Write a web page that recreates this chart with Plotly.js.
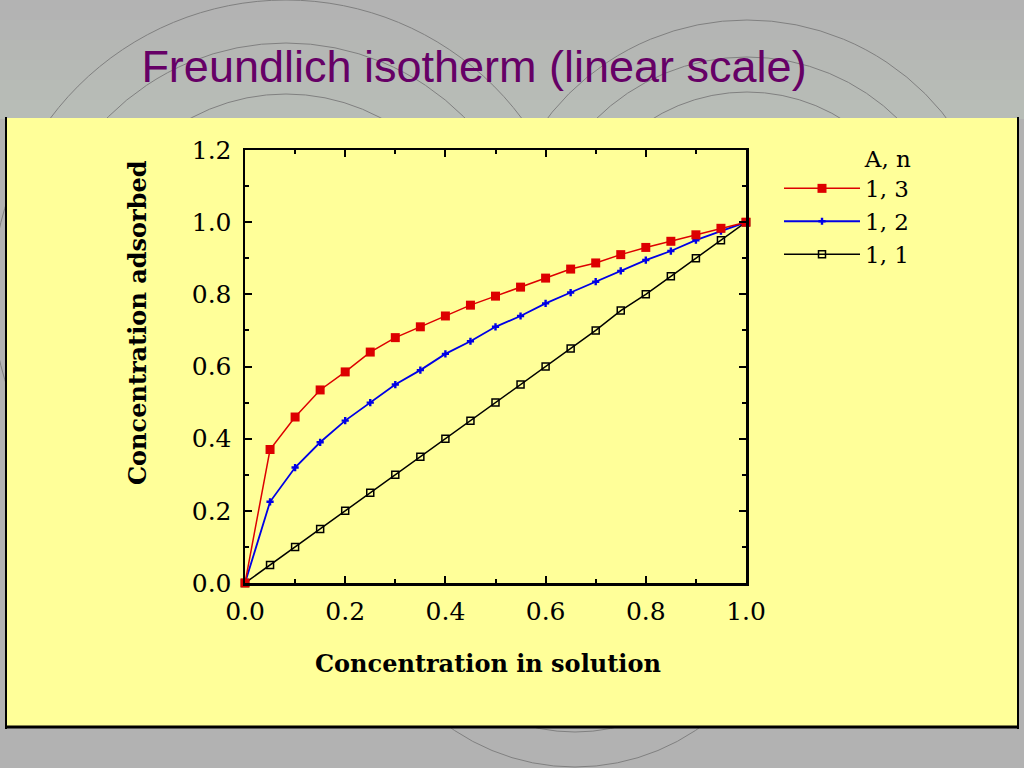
<!DOCTYPE html>
<html>
<head>
<meta charset="utf-8">
<script src="https://cdn.plot.ly/plotly-3.0.1.min.js"></script>
<style>
  html, body { margin: 0; padding: 0; background: #b3b3b3; }
  #chart { width: 1024px; height: 768px; }
</style>
</head>
<body>
<div id="chart"></div>
<script>
// ---- data ----
const concSolution = [0, 0.05, 0.10, 0.15, 0.20, 0.25, 0.30, 0.35, 0.40, 0.45, 0.50,
                      0.55, 0.60, 0.65, 0.70, 0.75, 0.80, 0.85, 0.90, 0.95, 1.00];
const adsorbedN3 = [0, 0.37, 0.46, 0.535, 0.585, 0.64, 0.68, 0.71, 0.74, 0.77, 0.795,
                    0.82, 0.845, 0.87, 0.887, 0.91, 0.93, 0.947, 0.965, 0.983, 1.00];
const adsorbedN2 = [0, 0.225, 0.32, 0.39, 0.45, 0.50, 0.55, 0.59, 0.635, 0.67, 0.71,
                    0.74, 0.775, 0.805, 0.835, 0.865, 0.895, 0.92, 0.95, 0.975, 1.00];
const adsorbedN1 = [0, 0.05, 0.10, 0.15, 0.20, 0.25, 0.30, 0.35, 0.40, 0.45, 0.50,
                    0.55, 0.60, 0.65, 0.70, 0.755, 0.80, 0.85, 0.90, 0.95, 1.00];
const seriesNames = ['1, 3', '1, 2', '1, 1'];
const legendTitle = 'A, n';
const chartTitle = 'Freundlich isotherm (linear scale)';
const xTitle = 'Concentration in solution';
const yTitle = 'Concentration adsorbed';

// ---- layout helpers (pixel -> paper) ----
const L = 245, R = 746, T = 150, B = 583;
function px(x) { return (x - L) / (R - L); }
function py(y) { return (B - y) / (B - T); }

const shapes = [];
// top gradient bands
const bands = [['#b3b3b3', 0, 20], ['#b4b5b4', 20, 40], ['#b5b7b4', 40, 60],
               ['#b6b9b5', 60, 80], ['#b7bbb6', 80, 100], ['#b8bdb7', 100, 119]];
bands.forEach(b => shapes.push({type: 'rect', xref: 'paper', yref: 'paper', layer: 'below',
  x0: px(0), x1: px(1024), y0: py(b[2]), y1: py(b[1]), fillcolor: b[0], line: {width: 0}}));
// decorative concentric arcs
function circ(cx, cy, r) {
  shapes.push({type: 'circle', xref: 'paper', yref: 'paper', layer: 'below',
    x0: px(cx - r), x1: px(cx + r), y0: py(cy + r), y1: py(cy - r),
    line: {color: '#808080', width: 1}});
}
[294, 251, 200].forEach(r => circ(286, 294, r));
[252, 215, 180].forEach(r => circ(747, 272, r));
[217, 182].forEach(r => circ(575, 550, r));
// yellow panel
shapes.push({type: 'rect', xref: 'paper', yref: 'paper', layer: 'below',
  x0: px(6), x1: px(1019), y0: py(728), y1: py(118), fillcolor: '#ffff99', line: {width: 0}});
shapes.push({type: 'line', xref: 'paper', yref: 'paper', layer: 'below',
  x0: px(6), x1: px(6), y0: py(729), y1: py(117), line: {color: '#000', width: 2}});
shapes.push({type: 'line', xref: 'paper', yref: 'paper', layer: 'below',
  x0: px(1018), x1: px(1018), y0: py(729), y1: py(117), line: {color: '#000', width: 2}});
shapes.push({type: 'line', xref: 'paper', yref: 'paper', layer: 'below',
  x0: px(5), x1: px(1019), y0: py(727), y1: py(727), line: {color: '#000', width: 3}});

const traces = [
  {x: concSolution, y: adsorbedN1, name: seriesNames[2], type: 'scatter', mode: 'lines+markers',
   line: {color: '#000000', width: 1.5}, cliponaxis: false,
   marker: {symbol: 'square-open', size: 7, color: '#000000', line: {width: 1.5}}},
  {x: concSolution, y: adsorbedN2, name: seriesNames[1], type: 'scatter', mode: 'lines+markers',
   line: {color: '#0000e6', width: 1.8}, cliponaxis: false,
   marker: {symbol: 'cross', size: 6, color: '#0000e6'}},
  {x: concSolution, y: adsorbedN3, name: seriesNames[0], type: 'scatter', mode: 'lines+markers',
   line: {color: '#dd0000', width: 1.5}, cliponaxis: false,
   marker: {symbol: 'square', size: 9, color: '#dd0000'}}
];

const tickFont = {family: 'DejaVu Serif', size: 25, color: '#000'};
const axisCommon = {
  showgrid: false, zeroline: false, showline: true, linecolor: '#000', linewidth: 2.5,
  mirror: 'ticks', ticks: 'inside', ticklen: 7, tickwidth: 2, tickcolor: '#000',
  tickformat: '.1f', tickfont: tickFont, dtick: 0.2, tick0: 0,
  minor: {ticks: 'inside', ticklen: 4, tickwidth: 2, tickcolor: '#000', dtick: 0.1, showgrid: false},
  fixedrange: true
};

const layout = {
  width: 1024, height: 768,
  margin: {l: L, r: 1024 - R, t: T, b: 768 - B, pad: 0},
  paper_bgcolor: '#b2b2b2',
  plot_bgcolor: 'rgba(0,0,0,0)',
  showlegend: true,
  title: {text: chartTitle, font: {family: 'Liberation Sans', size: 45, color: '#660066'},
          x: 474 / 1024, xanchor: 'center', y: 1 - 66 / 768, yanchor: 'middle'},
  xaxis: Object.assign({}, axisCommon, {range: [0, 1], ticklabelstandoff: 4}),
  yaxis: Object.assign({}, axisCommon, {range: [0, 1.2], ticklabelstandoff: 6}),
  legend: {x: px(779), xanchor: 'left', y: py(137), yanchor: 'top', traceorder: 'reversed',
           bgcolor: 'rgba(0,0,0,0)', borderwidth: 0, itemwidth: 76,
           font: {family: 'DejaVu Serif', size: 23, color: '#000'},
           title: {text: legendTitle, side: 'top right', font: {family: 'DejaVu Serif', size: 23, color: '#000'}}},
  annotations: [
    {text: xTitle, xref: 'paper', yref: 'paper', x: px(488), y: py(663), xanchor: 'center', yanchor: 'middle',
     showarrow: false, font: {family: 'DejaVu Serif', size: 24, color: '#000', weight: 'bold'}},
    {text: yTitle, xref: 'paper', yref: 'paper', x: px(137), y: py(323), xanchor: 'center', yanchor: 'middle',
     textangle: -90, showarrow: false, font: {family: 'DejaVu Serif', size: 24, color: '#000', weight: 'bold'}}
  ],
  shapes: shapes
};

Plotly.newPlot('chart', traces, layout, {displayModeBar: false, staticPlot: true});
</script>
</body>
</html>
